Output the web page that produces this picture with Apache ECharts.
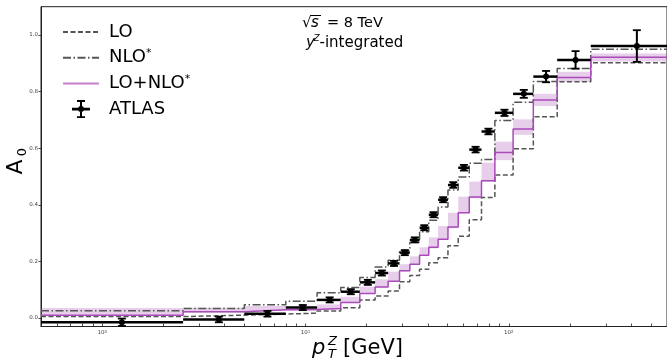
<!DOCTYPE html>
<html><head><meta charset="utf-8">
<script src="https://cdn.jsdelivr.net/npm/echarts@6/dist/echarts.min.js"></script>
<style>html,body{margin:0;padding:0;background:#fff}#c{width:667px;height:362px}</style>
</head><body><div id="c"></div>
<script>
// ---- data (A0 vs pT^Z, ATLAS 8 TeV binning) ----
const binEdges = [0, 2.5, 5, 8, 11.4, 14.9, 18.5, 22, 25.5, 29, 32.6, 36.4, 40.4, 44.9, 50.2, 56.4, 63.9, 73.4, 85.4, 105, 132, 173, 253, 600];
const atlasA0  = [-0.015, -0.005, 0.015, 0.037, 0.064, 0.093, 0.126, 0.159, 0.193, 0.231, 0.276, 0.319, 0.365, 0.418, 0.470, 0.531, 0.595, 0.659, 0.725, 0.792, 0.853, 0.912, 0.961];
const atlasErr = [0.013, 0.010, 0.010, 0.009, 0.009, 0.009, 0.009, 0.009, 0.009, 0.009, 0.009, 0.009, 0.009, 0.009, 0.010, 0.010, 0.010, 0.010, 0.011, 0.014, 0.020, 0.031, 0.056];
const loA0     = [0.005, 0.010, 0.014, 0.017, 0.025, 0.036, 0.064, 0.078, 0.095, 0.128, 0.150, 0.172, 0.195, 0.213, 0.255, 0.289, 0.347, 0.426, 0.505, 0.598, 0.711, 0.835, 0.902];
const nloA0    = [0.026, 0.034, 0.047, 0.059, 0.089, 0.108, 0.143, 0.180, 0.204, 0.238, 0.268, 0.305, 0.345, 0.392, 0.452, 0.498, 0.547, 0.560, 0.698, 0.762, 0.836, 0.882, 0.950];
const combA0   = [0.010, 0.022, 0.029, 0.030, 0.034, 0.055, 0.087, 0.110, 0.130, 0.167, 0.190, 0.222, 0.250, 0.278, 0.322, 0.372, 0.428, 0.485, 0.585, 0.668, 0.770, 0.850, 0.921];
const bandLow  = [0.008, 0.019, 0.025, 0.026, 0.031, 0.053, 0.085, 0.108, 0.128, 0.165, 0.188, 0.220, 0.246, 0.276, 0.317, 0.370, 0.423, 0.482, 0.558, 0.647, 0.749, 0.835, 0.906];
const bandHigh = [0.035, 0.036, 0.042, 0.040, 0.048, 0.075, 0.111, 0.137, 0.164, 0.190, 0.218, 0.250, 0.285, 0.325, 0.372, 0.429, 0.482, 0.549, 0.623, 0.702, 0.792, 0.870, 0.935];
const yTicks = [0, 0.2, 0.4, 0.6, 0.8, 1.0];
const xMajorTicks = [1, 10, 100];
const xMinorTicks = [0.6, 0.7, 0.8, 0.9, 2, 3, 4, 5, 6, 7, 8, 9, 20, 30, 40, 50, 60, 70, 80, 90, 200, 300, 400, 500, 600];
const xMin = 0.5, xMax = 600, yMin = -0.03, yMax = 1.1;

// ---- helpers ----
const L = v => Math.log10(Math.max(v, xMin));
function stepData(vals) {
  const d = vals.map((v, i) => [L(binEdges[i]), v]);
  d.push([L(binEdges[vals.length]), vals[vals.length - 1]]);
  return d;
}
const FONT = 'DejaVu Sans';
const atlasIcon = 'path://M0,9L0,9.01L0.01,9Z M36,9L36,9.01L35.99,9Z M9,7.7L27,7.7L27,10.3L9,10.3Z M17,0L19,0L19,18L17,18Z M14,0L22,0L22,1.8L14,1.8Z M14,16.2L22,16.2L22,18L14,18Z M15,9A3,3 0 1,1 21,9A3,3 0 1,1 15,9Z';

const chart = echarts.init(document.getElementById('c'), null, {renderer: 'canvas'});
const option = {
  animation: false,
  textStyle: {fontFamily: FONT},
  grid: {left: 41, right: -8, top: 6.7, bottom: 35.5, show: true, borderColor: '#222', borderWidth: 1, backgroundColor: 'transparent'},
  xAxis: {
    type: 'value', min: L(xMin), max: Math.log10(xMax),
    axisLine: {show: true, onZero: false, lineStyle: {color: '#222', width: 1}},
    splitLine: {show: false},
    axisTick: {show: true, inside: true, length: 3, customValues: xMajorTicks.concat(xMinorTicks).map(v => Math.log10(v)), lineStyle: {color: '#222', width: 0.8}},
    axisLabel: {
      customValues: xMajorTicks.map(v => Math.log10(v)),
      formatter: v => '10{s|' + Math.round(v) + '}',
      fontSize: 5.5, color: '#444', margin: 3, fontFamily: FONT,
      rich: {s: {fontSize: 4, verticalAlign: 'top', lineHeight: 4, fontFamily: FONT, color: '#444'}}
    }
  },
  yAxis: {
    type: 'value', min: yMin, max: yMax,
    axisLine: {show: true, onZero: false, lineStyle: {color: '#222', width: 1}},
    splitLine: {show: false},
    axisTick: {show: true, inside: false, length: 2.5, customValues: yTicks, lineStyle: {color: '#222', width: 0.8}},
    axisLabel: {customValues: yTicks, formatter: v => v.toFixed(1), fontSize: 5.5, color: '#444', margin: 3, fontFamily: FONT}
  },
  legend: {
    orient: 'vertical', left: 57, top: 17, itemWidth: 36, itemHeight: 18, itemGap: 5.7,
    data: [{name: 'LO'}, {name: 'NLO*'}, {name: 'LO+NLO*', lineStyle: {color: '#c47fcd', width: 2}}, {name: 'ATLAS', icon: atlasIcon}],
    formatter: n => n.replace('*', '{sup|*}'),
    textStyle: {fontSize: 18, fontFamily: FONT, color: '#000', lineHeight: 20, padding: [0, 0, 0, 5],
      rich: {sup: {fontSize: 11, verticalAlign: 'top', lineHeight: 11, fontFamily: FONT, color: '#000'}}}
  },
  series: [
    {
      type: 'custom', name: 'band', z: 1, silent: true,
      data: bandLow.map((lo, i) => [L(binEdges[i]), L(binEdges[i + 1]), lo, bandHigh[i]]),
      encode: {x: [0, 1], y: [2, 3]},
      renderItem: (params, api) => {
        const a = api.coord([api.value(0), api.value(3)]);
        const b = api.coord([api.value(1), api.value(2)]);
        return {type: 'rect', shape: {x: a[0], y: a[1], width: b[0] - a[0], height: b[1] - a[1]},
          style: {fill: 'rgba(175,95,190,0.30)'}};
      }
    },
    {type: 'line', name: 'LO', z: 2, step: 'end', symbol: 'none', data: stepData(loA0),
      lineStyle: {color: '#555', width: 1.5, type: [5, 2.5]}, itemStyle: {color: 'rgba(0,0,0,0)'}},
    {type: 'line', name: 'NLO*', z: 2, step: 'end', symbol: 'none', data: stepData(nloA0),
      lineStyle: {color: '#555', width: 1.5, type: [8, 2.5, 1.5, 2.5]}, itemStyle: {color: 'rgba(0,0,0,0)'}},
    {type: 'line', name: 'LO+NLO*', z: 3, step: 'end', symbol: 'none', data: stepData(combA0),
      lineStyle: {color: '#a94bb8', width: 1.5}, itemStyle: {color: 'rgba(0,0,0,0)'}},
    {
      type: 'custom', name: 'ATLAS', z: 4, itemStyle: {color: '#000'},
      data: atlasA0.map((v, i) => [L(binEdges[i]), L(binEdges[i + 1]), Math.log10((binEdges[i] + binEdges[i + 1]) / 2), v, atlasErr[i]]),
      encode: {x: [0, 1, 2], y: 3},
      renderItem: (params, api) => {
        const y = api.value(3), e = api.value(4), xc = api.value(2);
        const p0 = api.coord([api.value(0), y]), p1 = api.coord([api.value(1), y]);
        const pc = api.coord([xc, y]), pt = api.coord([xc, y + e]), pb = api.coord([xc, y - e]);
        const cap = 4;
        return {type: 'group', children: [
          {type: 'line', shape: {x1: p0[0], y1: p0[1], x2: p1[0], y2: p1[1]}, style: {stroke: '#000', lineWidth: 2.5}},
          {type: 'line', shape: {x1: pc[0], y1: pt[1], x2: pc[0], y2: pb[1]}, style: {stroke: '#000', lineWidth: 2}},
          {type: 'line', shape: {x1: pc[0] - cap, y1: pt[1], x2: pc[0] + cap, y2: pt[1]}, style: {stroke: '#000', lineWidth: 1.8}},
          {type: 'line', shape: {x1: pc[0] - cap, y1: pb[1], x2: pc[0] + cap, y2: pb[1]}, style: {stroke: '#000', lineWidth: 1.8}},
          {type: 'circle', shape: {cx: pc[0], cy: pc[1], r: 3}, style: {fill: '#000'}}
        ]};
      }
    }
  ],
  graphic: [
    // annotation
    {type: 'text', x: 302, y: 23.5, style: {text: '√', font: '15px "DejaVu Sans"', fill: '#000', verticalAlign: 'middle'}},
    {type: 'line', shape: {x1: 310.5, y1: 15.5, x2: 321, y2: 15.5}, style: {stroke: '#000', lineWidth: 1}},
    {type: 'text', x: 311, y: 23.5, style: {text: 's', font: 'italic 15px "DejaVu Sans"', fill: '#000', verticalAlign: 'middle'}},
    {type: 'text', x: 327, y: 23.5, style: {text: '= 8 TeV', font: '14.5px "DejaVu Sans"', fill: '#000', verticalAlign: 'middle'}},
    {type: 'text', x: 306, y: 43, style: {text: 'y', font: 'italic 15px "DejaVu Sans"', fill: '#000', verticalAlign: 'middle'}},
    {type: 'text', x: 313.5, y: 38.5, style: {text: 'Z', font: 'italic 9px "DejaVu Sans"', fill: '#000', verticalAlign: 'middle'}},
    {type: 'text', x: 319.5, y: 43, style: {text: '-integrated', font: '15px "DejaVu Sans"', fill: '#000', verticalAlign: 'middle'}},
    // x axis title
    {type: 'text', x: 312, y: 349, style: {text: 'p', font: 'italic 21px "DejaVu Sans"', fill: '#000', verticalAlign: 'middle'}},
    {type: 'text', x: 328, y: 342, style: {text: 'Z', font: 'italic 13px "DejaVu Sans"', fill: '#000', verticalAlign: 'middle'}},
    {type: 'text', x: 328, y: 355, style: {text: 'T', font: 'italic 13px "DejaVu Sans"', fill: '#000', verticalAlign: 'middle'}},
    {type: 'text', x: 343, y: 349, style: {text: '[GeV]', font: '21px "DejaVu Sans"', fill: '#000', verticalAlign: 'middle'}},
    // y axis title
    {type: 'text', x: 16, y: 167, rotation: Math.PI / 2, style: {text: 'A', font: '22px "DejaVu Sans"', fill: '#000', align: 'center', verticalAlign: 'middle'}},
    {type: 'text', x: 23, y: 152, rotation: Math.PI / 2, style: {text: '0', font: '13px "DejaVu Sans"', fill: '#000', align: 'center', verticalAlign: 'middle'}}
  ]
};
chart.setOption(option);
</script></body></html>
